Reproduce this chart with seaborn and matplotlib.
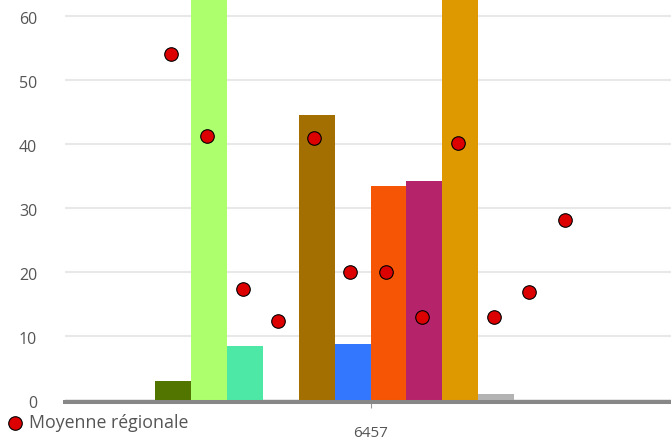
import matplotlib
matplotlib.use("Agg")
import matplotlib.pyplot as plt
import matplotlib.transforms as mtransforms
import pandas as pd
import seaborn as sns

# ---------------------------------------------------------------------------
# Data
# ---------------------------------------------------------------------------
CATEGORY = "6457"
SERIES = ["Série 1", "Série 2", "Série 3", "Série 4", "Série 5", "Série 6",
          "Série 7", "Série 8", "Série 9", "Série 10", "Série 11", "Série 12"]
BAR_VALUES = [3.0, 75.0, 8.4, 0.0, 44.5, 8.8, 33.4, 34.2, 78.0, 1.0, 0.0, 0.0]
REGIONAL_MEAN = [54.0, 41.3, 17.4, 12.3, 41.0, 20.0, 20.0, 13.0, 40.2, 13.0, 16.8, 28.1]
BAR_COLORS = ["#527500", "#adff6e", "#4de8a6", "#7f7f7f", "#a36f00", "#3377ff",
              "#f55505", "#b5246b", "#de9800", "#b3b3b3", "#7f7f7f", "#7f7f7f"]
Y_TICKS = [0, 10, 20, 30, 40, 50, 60]
MEAN_LABEL = "Moyenne régionale"

# ---------------------------------------------------------------------------
# Style
# ---------------------------------------------------------------------------
sns.set_theme(style="white")
plt.rcParams["font.family"] = ["Open Sans", "DejaVu Sans"]
TEXT_COLOR = "#555555"

df = pd.DataFrame({
    "categorie": [CATEGORY] * len(SERIES),
    "serie": SERIES,
    "valeur": BAR_VALUES,
})

# the plot area runs a little past the right edge of the image
fig = plt.figure(figsize=(6.71, 4.42), dpi=100)
ax = fig.add_axes([65 / 671, 42 / 442, 611 / 671, 400 / 442])

sns.barplot(
    data=df, x="categorie", y="valeur", hue="serie", hue_order=SERIES,
    palette=BAR_COLORS, saturation=1, width=0.704, dodge=True,
    legend=False, linewidth=0, ax=ax,
)

# regional mean markers, placed on the centre of each dodged bar
bars = list(ax.patches)[: len(SERIES)]
xs = [b.get_x() + b.get_width() / 2 - 0.004 for b in bars]
dots = ax.scatter(xs, REGIONAL_MEAN, s=95, color="#dd0000", edgecolor="black",
                  linewidth=0.8, zorder=5, label=MEAN_LABEL)

ax.set_ylim(0, 62.5)
ax.set_xlim(-0.5, 0.5)
ax.set_yticks(Y_TICKS)
ax.set_xlabel("")
ax.set_ylabel("")

ax.set_axisbelow(True)
ax.yaxis.grid(True, color="#e8e8e8", linewidth=1.5)
ax.xaxis.grid(False)
for side in ("left", "right", "top"):
    ax.spines[side].set_visible(False)
ax.spines["bottom"].set_color("#878787")
ax.spines["bottom"].set_linewidth(2.9)
ax.spines["bottom"].set_position(("outward", 1.44))

ax.tick_params(axis="y", length=0, pad=20, labelsize=11.5, labelcolor=TEXT_COLOR)
ax.tick_params(axis="x", bottom=True, length=4.5, width=0.8, color="#999999",
               pad=12.5, labelsize=11, labelcolor=TEXT_COLOR)

# y labels sit slightly below their grid lines in the reference
shift = mtransforms.ScaledTranslation(0, -2.5 / 100, fig.dpi_scale_trans)
for lab in ax.get_yticklabels():
    lab.set_transform(lab.get_transform() + shift)

fig.legend(handles=[dots], loc="center left", bbox_to_anchor=(3 / 671, 19 / 442),
           frameon=False, fontsize=12.8, labelcolor=TEXT_COLOR,
           handlelength=0.8, handletextpad=0.35, borderpad=0.3, borderaxespad=0)

fig.savefig("out.png", dpi=100)
plt.close(fig)
